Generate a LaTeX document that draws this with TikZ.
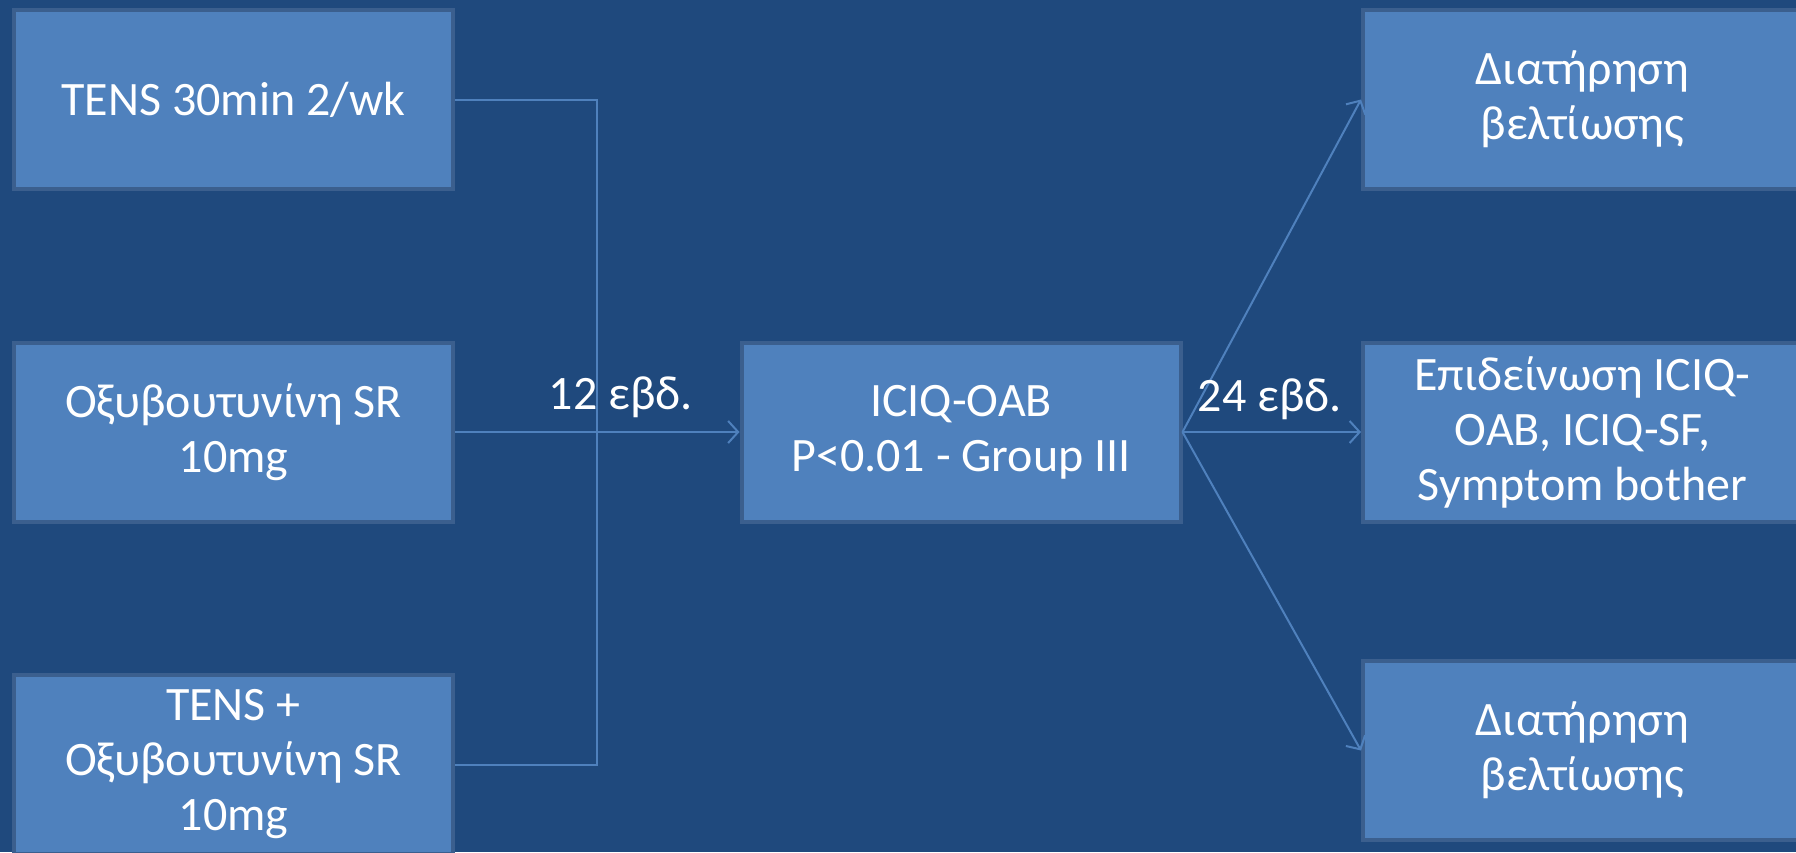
\documentclass[tikz,border=0pt]{standalone}
\usepackage{fontspec}
\setmainfont{Carlito}
\usetikzlibrary{arrows.meta}
\definecolor{bgblue}{HTML}{1F497D}
\definecolor{boxfill}{HTML}{4F81BD}
\definecolor{boxline}{HTML}{3B5F8E}
\definecolor{connblue}{HTML}{4F81BD}
\tikzset{
  box/.style={draw=boxline, fill=boxfill, line width=4pt, minimum width=439pt, minimum height=179pt,
    inner sep=0pt, align=center, text=white, font=\fontsize{48}{55}\selectfont},
  conn/.style={draw=connblue, line width=2pt},
  arr/.style={conn, -{Straight Barb[length=10pt,width=22pt]}},
  lbl/.style={text=white, inner sep=0pt, font=\fontsize{48}{55}\selectfont}
}
\begin{document}
\begin{tikzpicture}[x=1pt,y=-1pt]
\useasboundingbox (0,0) rectangle (1796,852);
\clip (0,0) rectangle (1796,852);
\fill[bgblue] (0,0) rectangle (1796,852);
% left column
\node[box] (tens) at (233.5,99.5) {TENS 30min 2/wk};
\node[box] (oxy) at (233.5,432) {Οξυβουτυνίνη SR\\10mg};
\node[box] (combo) at (233.5,764.5) {TENS +\\Οξυβουτυνίνη SR\\10mg};
% centre
\node[box] (iciq) at (961,432) {ICIQ-OAB\\P<0.01 - Group III};
% right column
\node[box] (keep1) at (1582.5,99.5) {Διατήρηση\\βελτίωσης};
\node[box] (worse) at (1582.5,432) {Επιδείνωση ICIQ-\\OAB, ICIQ-SF,\\Symptom bother};
\node[box] (keep2) at (1582.5,750.5) {Διατήρηση\\βελτίωσης};
% connectors
\coordinate (jt) at (597,99.5);
\coordinate (jb) at (597,764.5);
\draw[conn] (tens.east) -- (jt) -- (jb) -- (combo.east);
\draw[arr] (oxy.east) -- (iciq.west);
\draw[arr] (iciq.east) -- (keep1.west);
\draw[arr] (iciq.east) -- (worse.west);
\draw[arr] (iciq.east) -- (keep2.west);
% labels
\node[lbl] (w12) at (621,397) {12 εβδ.};
\node[lbl] (w24) at (1270,399) {24 εβδ.};
\end{tikzpicture}
\end{document}
